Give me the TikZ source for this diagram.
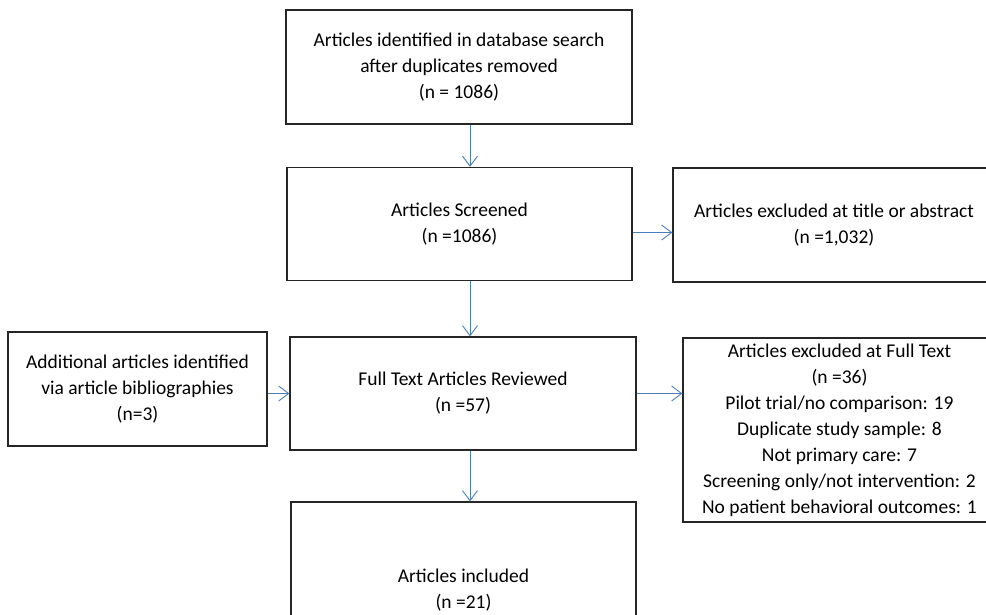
\documentclass[tikz,border=0pt]{standalone}
\usepackage{fontspec}
\setmainfont{Carlito}
\usetikzlibrary{arrows.meta}
\definecolor{arrowblue}{HTML}{4A7EBB}
\begin{document}
\begin{tikzpicture}
            [x=1pt, y=-1pt,
            every node/.style={rectangle, align=center, font=\fontsize{19.5}{26}\selectfont},
            box/.style={draw=black!85, line width=1.2pt, inner sep=0pt},
            flow/.style={draw=arrowblue, line width=0.9pt, -{Straight Barb[length=10pt, width=15pt]}}]

            \useasboundingbox (0,0) rectangle (986,614);
            \clip (0,0) rectangle (986,614);

            % main column
            \node[box, minimum width=346pt, minimum height=114pt] (search) at (459,67)
                {Articles identified in database search\\after duplicates removed\\(n = 1086)};
            \node[box, minimum width=345pt, minimum height=113pt] (screened) at (459.5,224)
                {Articles Screened\\(n =1086)};
            \node[box, minimum width=346pt, minimum height=113pt] (fulltext) at (463,393.5)
                {Full Text Articles Reviewed\\(n =57)};
            \node[box, minimum width=345pt, minimum height=176pt] (included) at (463.5,590)
                {Articles included\\(n =21)};

            % side boxes
            \node[box, minimum width=322pt, minimum height=114pt] (excltitle) at (834,225)
                {Articles excluded at title or abstract\\(n =1,032)};
            \node[box, minimum width=259pt, minimum height=114pt] (additional) at (137.5,389)
                {Additional articles identified\\via article bibliographies\\(n=3)};
            \node[box, minimum width=313pt, minimum height=184pt] (exclfull) at (839.5,430)
                {Articles excluded at Full Text\\(n =36)\\Pilot trial/no comparison: 19\\Duplicate study sample: 8\\Not primary care: 7\\Screening only/not intervention: 2\\No patient behavioral outcomes: 1};

            % connectors
            \draw[flow] ([xshift=11pt]search.south) -- ([xshift=10.5pt]screened.north);
            \draw[flow] ([xshift=10.5pt]screened.south) -- ([xshift=7pt]fulltext.north);
            \draw[flow] ([xshift=7pt]fulltext.south) -- ([xshift=6.5pt]included.north);
            \draw[flow] ([yshift=-8.5pt]screened.east) -- ([yshift=-8.5pt]screened.east -| excltitle.west);
            \draw[flow] (additional.east |- fulltext.west) -- (fulltext.west);
            \draw[flow] (fulltext.east) -- (fulltext.east -| exclfull.west);
        \end{tikzpicture}
\end{document}
